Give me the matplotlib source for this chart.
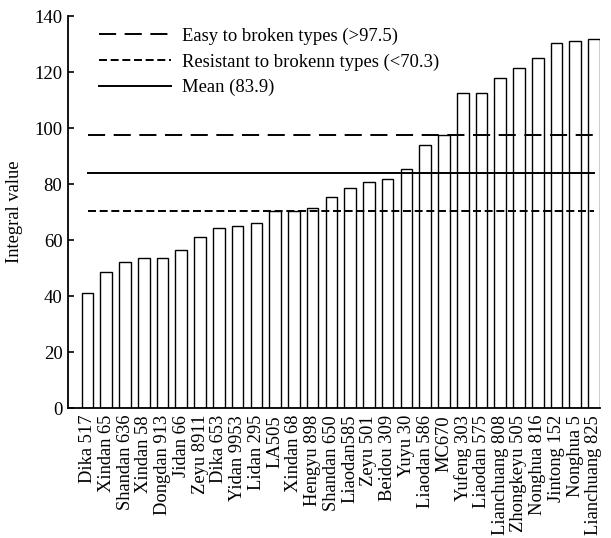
import matplotlib.pyplot as plt
import numpy as np

plt.rcParams['font.family'] = ['Liberation Serif', 'DejaVu Serif']

varieties = ['Dika 517', 'Xindan 65', 'Shandan 636', 'Xindan 58', 'Dongdan 913',
             'Jidan 66', 'Zeyu 8911', 'Dika 653', 'Yidan 9953', 'Lidan 295',
             'LA505', 'Xindan 68', 'Hengyu 898', 'Shandan 650', 'Liaodan585',
             'Zeyu 501', 'Beidou 309', 'Yuyu 30', 'Liaodan 586', 'MC670',
             'Yufeng 303', 'Liaodan 575', 'Lianchuang 808', 'Zhongkeyu 505',
             'Nonghua 816', 'Jintong 152', 'Nonghua 5', 'Lianchuang 825']
integral = [41.0, 48.5, 52.0, 53.5, 53.7, 56.5, 61.0, 64.3, 65.2, 66.2,
            70.3, 70.4, 71.6, 75.4, 78.5, 80.6, 81.8, 85.5, 94.0, 97.5,
            112.5, 112.6, 118.0, 121.4, 125.2, 130.4, 131.0, 131.8]

easy_limit = 97.5
resistant_limit = 70.3
mean_value = 83.9

fig = plt.figure(figsize=(6.11, 5.38), dpi=100)
ax = fig.add_axes([0.1113, 0.2416, 0.8707, 0.7284])

x = np.arange(len(varieties))
ax.bar(x, integral, width=0.62, color='white', edgecolor='black', linewidth=1.0)

# reference lines run from the first to the last bar centre
x0, x1 = x[0], x[-1]
ax.plot([x0, x1], [easy_limit] * 2, color='black', lw=1.4, dashes=(8.8, 4.4),
        label='Easy to broken types (>97.5)')
ax.plot([x0, x1], [resistant_limit] * 2, color='black', lw=1.4, dashes=(4.1, 1.9),
        label='Resistant to brokenn types (<70.3)')
ax.plot([x0, x1], [mean_value] * 2, color='black', lw=1.4,
        label='Mean (83.9)')

ax.set_xlim(-1.04, 27.32)
ax.set_ylim(0, 140)
ax.set_yticks(range(0, 141, 20))
ax.set_xticks(x)
ax.set_xticklabels(varieties, rotation=90, fontsize=13.3)
ax.tick_params(axis='x', length=0, pad=5)
ax.tick_params(axis='y', direction='in', length=4, labelsize=13.5, width=1.2, pad=4)
ax.spines['top'].set_visible(False)
ax.spines['right'].set_visible(False)
ax.spines['left'].set_linewidth(1.3)
ax.spines['bottom'].set_linewidth(1.3)
ax.set_ylabel('Integral value', fontsize=13.3, labelpad=8)

ax.legend(loc='upper left', frameon=False, fontsize=13.4, handlelength=3.9,
          handletextpad=0.55, labelspacing=0.45, borderaxespad=0,
          bbox_to_anchor=(0.044, 0.99))

fig.savefig('out.png', dpi=100)
